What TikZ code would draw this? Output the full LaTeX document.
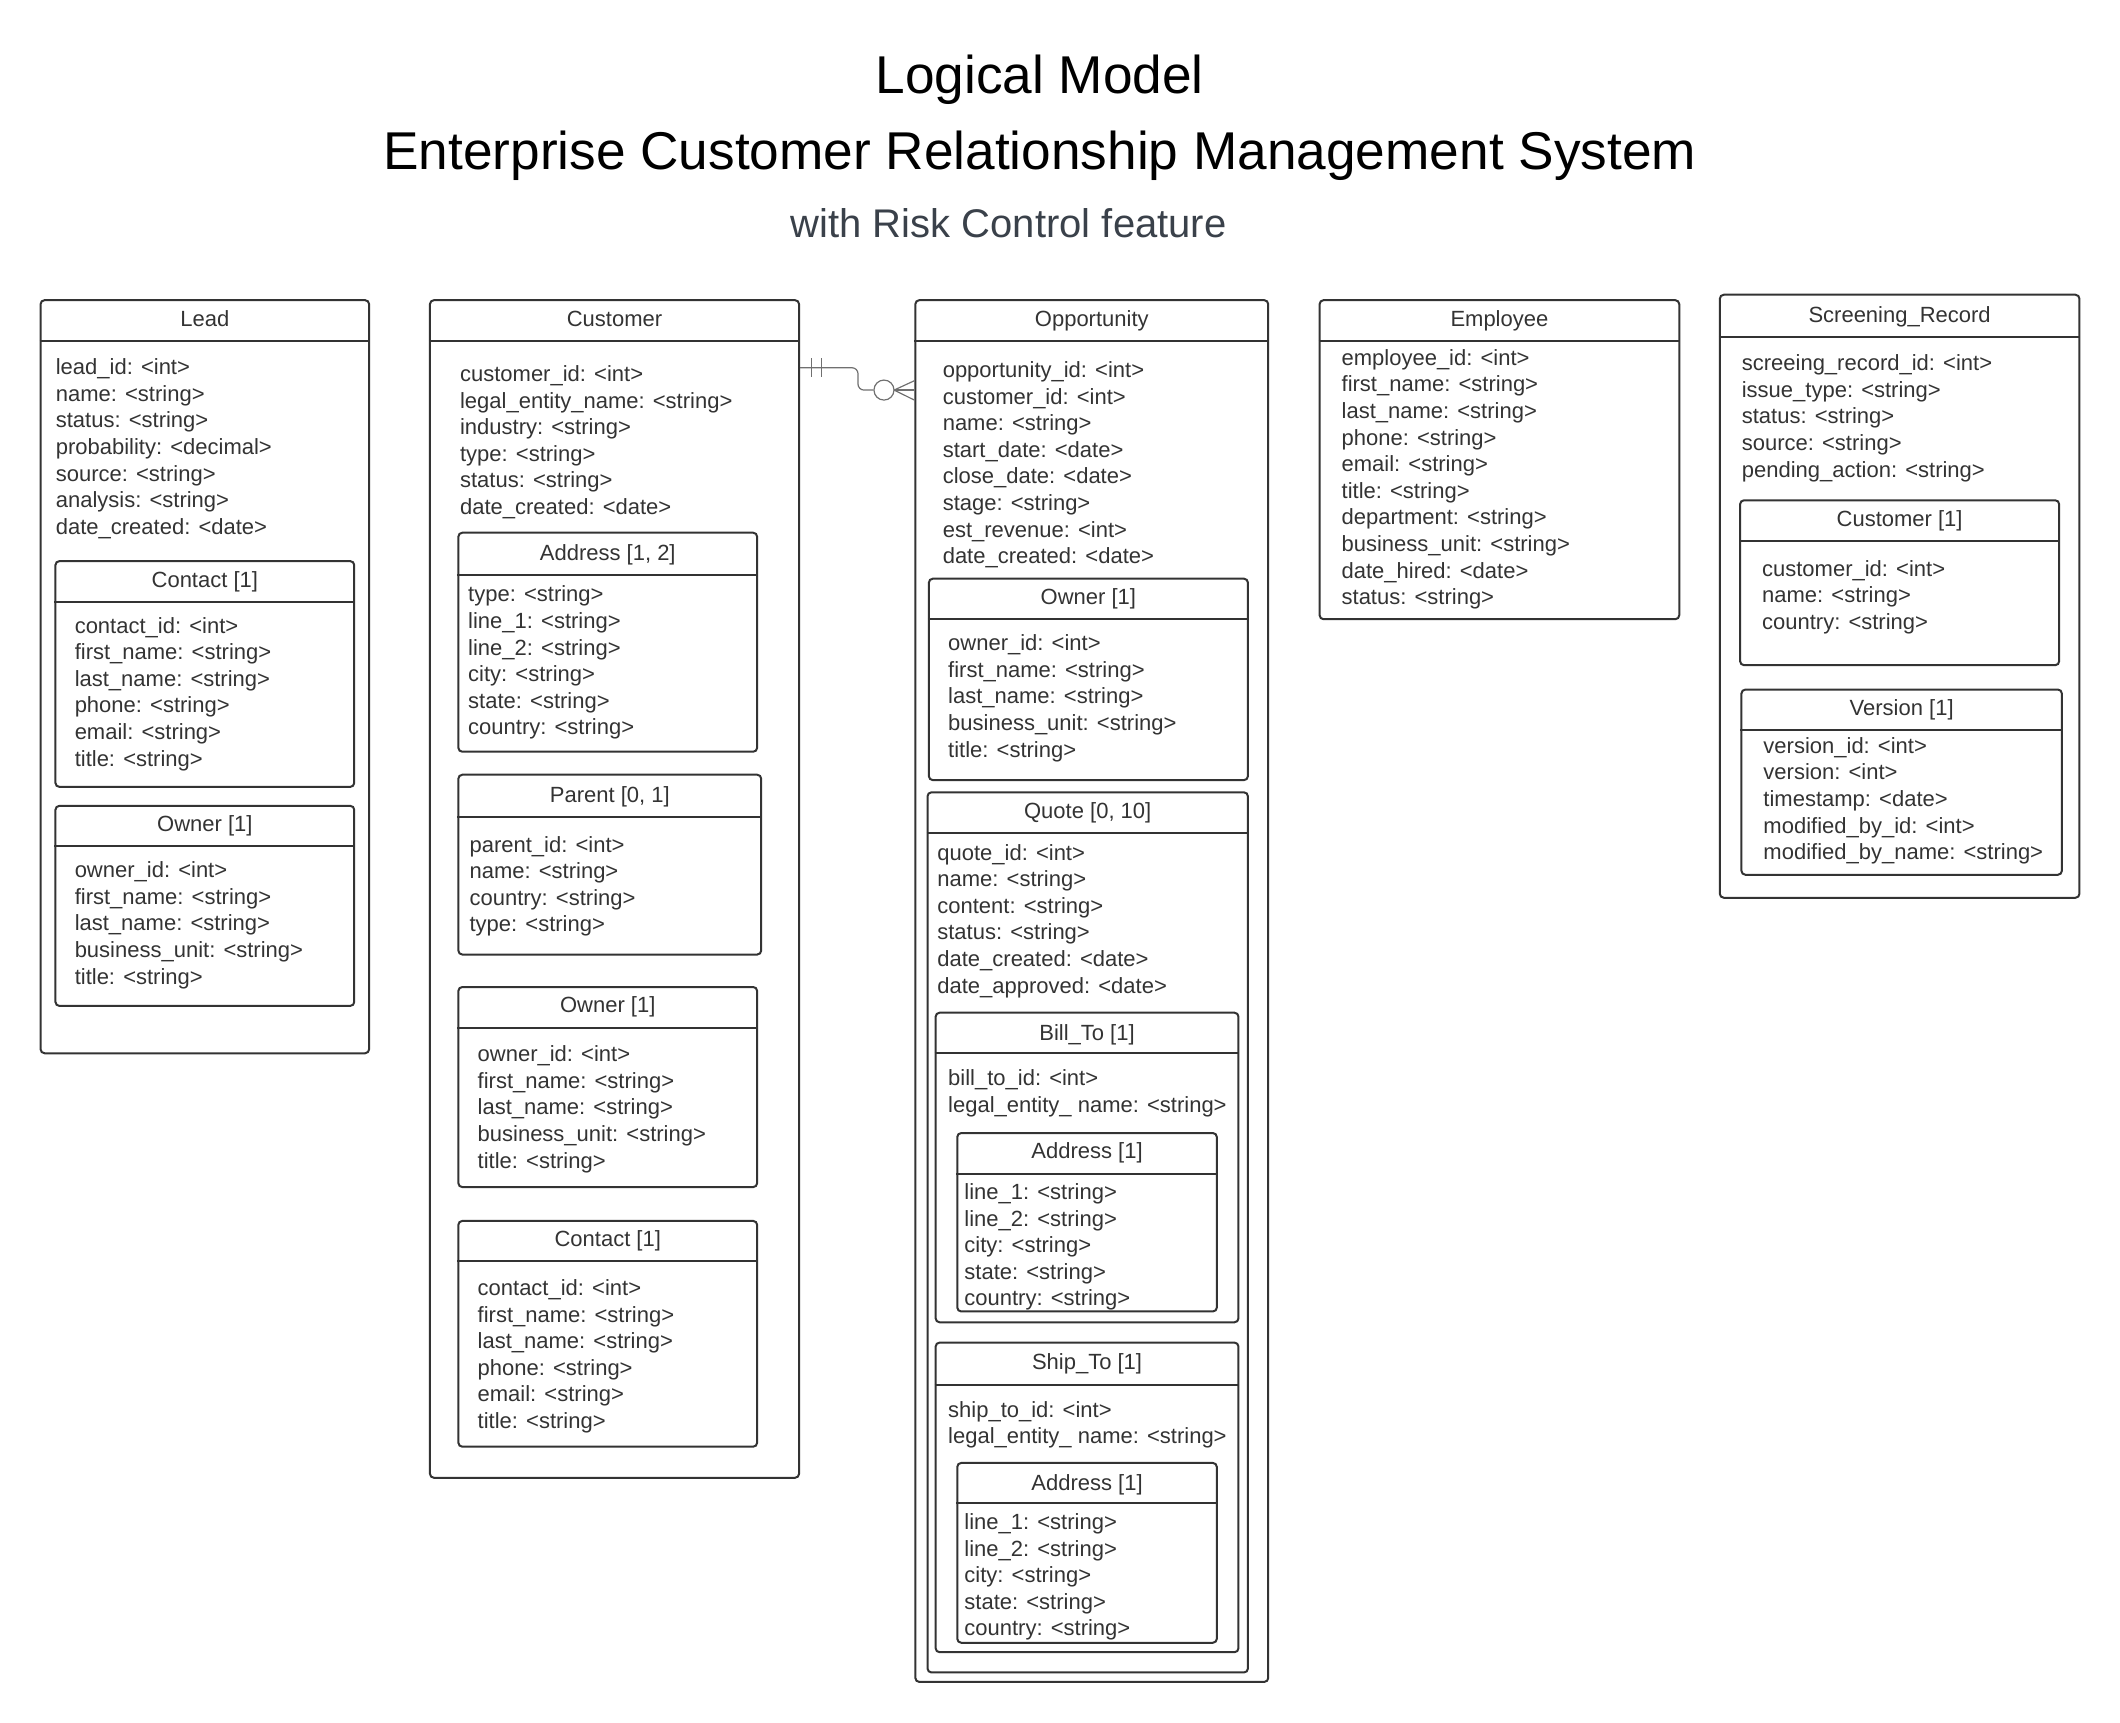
\documentclass[tikz,border=0pt]{standalone}
\usepackage{fontspec}
\setmainfont{Liberation Sans}
\usetikzlibrary{fit,calc}
\definecolor{linec}{HTML}{333333}
\definecolor{textc}{HTML}{333333}
\definecolor{subc}{HTML}{3A414A}
\definecolor{connc}{HTML}{707070}
\tikzset{
  ebox/.style={draw=linec, line width=1pt, rounded corners=2pt, inner sep=0pt},
  eline/.style={draw=linec, line width=1pt},
  etitle/.style={anchor=base, inner sep=0pt, text=textc, font=\fontsize{11}{13.3}\selectfont},
  efield/.style={anchor=base west, inner sep=0pt, text=textc, font=\fontsize{11}{13.3}\selectfont},
  conn/.style={draw=connc, line width=0.6pt},
}
\newcommand\entity[8]{%
  \node[ebox, fit={(#2,#3)(#4,#5)}] (#1) {};
  \draw[eline] (#1.west |- 0,#6) -- (#1.east |- 0,#6);
  \node[etitle] (#1-t) at ({(#2+#4)/2},{#8+6.2}) {#7};
}
\newcommand\fields[4]{%
  \node[efield] (#1) at (#2,{#3+6.2}) {\begin{tabular}[t]{@{}l@{}}#4\end{tabular}};
}
\begin{document}
\begin{tikzpicture}[x=0.676pt,y=-0.676pt]
\useasboundingbox (0,0) rectangle (1568,1274);
% titles
\node[anchor=base, inner sep=0pt, font=\fontsize{26.6}{30}\selectfont] (t1) at (769,69) {Logical Model};
\node[anchor=base, inner sep=0pt, font=\fontsize{26.6}{30}\selectfont] (t2) at (769,125) {Enterprise Customer Relationship Management System};
\node[anchor=base, inner sep=0pt, text=subc, font=\fontsize{20}{24}\selectfont] (t3) at (746,176) {with Risk Control feature};

% Lead
\entity{lead}{30}{222}{273}{779}{252}{Lead}{235}
\fields{lead-f}{41}{271}{lead\_id: <int>\\name: <string>\\status: <string>\\probability: <decimal>\\source: <string>\\analysis: <string>\\date\_created: <date>}
\entity{leadc}{41}{415}{262}{582}{445}{Contact [1]}{428}
\fields{leadc-f}{55}{462}{contact\_id: <int>\\first\_name: <string>\\last\_name: <string>\\phone: <string>\\email: <string>\\title: <string>}
\entity{leado}{41}{596}{262}{744}{626}{Owner [1]}{609}
\fields{leado-f}{55}{643}{owner\_id: <int>\\first\_name: <string>\\last\_name: <string>\\business\_unit: <string>\\title: <string>}

% Customer
\entity{cust}{318}{222}{591}{1093}{252}{Customer}{235}
\fields{cust-f}{340}{276}{customer\_id: <int>\\legal\_entity\_name: <string>\\industry: <string>\\type: <string>\\status: <string>\\date\_created: <date>}
\entity{custa}{339}{394}{560}{556}{425}{Address [1, 2]}{408}
\fields{custa-f}{346}{439}{type: <string>\\line\_1: <string>\\line\_2: <string>\\city: <string>\\state: <string>\\country: <string>}
\entity{custp}{339}{573}{563}{706}{604}{Parent [0, 1]}{587}
\fields{custp-f}{347}{624}{parent\_id: <int>\\name: <string>\\country: <string>\\type: <string>}
\entity{custo}{339}{730}{560}{878}{760}{Owner [1]}{743}
\fields{custo-f}{353}{779}{owner\_id: <int>\\first\_name: <string>\\last\_name: <string>\\business\_unit: <string>\\title: <string>}
\entity{custc}{339}{903}{560}{1070}{933}{Contact [1]}{916}
\fields{custc-f}{353}{952}{contact\_id: <int>\\first\_name: <string>\\last\_name: <string>\\phone: <string>\\email: <string>\\title: <string>}

% Opportunity
\entity{opp}{677}{222}{938}{1244}{252}{Opportunity}{235}
\fields{opp-f}{697}{273}{opportunity\_id: <int>\\customer\_id: <int>\\name: <string>\\start\_date: <date>\\close\_date: <date>\\stage: <string>\\est\_revenue: <int>\\date\_created: <date>}
\entity{oppo}{687}{428}{923}{577}{458}{Owner [1]}{441}
\fields{oppo-f}{701}{475}{owner\_id: <int>\\first\_name: <string>\\last\_name: <string>\\business\_unit: <string>\\title: <string>}
\entity{quote}{686}{586}{923}{1237}{616}{Quote [0, 10]}{599}
\fields{quote-f}{693}{630}{quote\_id: <int>\\name: <string>\\content: <string>\\status: <string>\\date\_created: <date>\\date\_approved: <date>}
\entity{bill}{692}{749}{916}{978}{779}{Bill\_To [1]}{763}
\fields{bill-f}{701}{797}{bill\_to\_id: <int>\\legal\_entity\_ name: <string>}
\entity{billa}{708}{838}{900}{970}{868}{Address [1]}{851}
\fields{billa-f}{713}{881}{line\_1: <string>\\line\_2: <string>\\city: <string>\\state: <string>\\country: <string>}
\entity{ship}{692}{993}{916}{1222}{1024}{Ship\_To [1]}{1007}
\fields{ship-f}{701}{1042}{ship\_to\_id: <int>\\legal\_entity\_ name: <string>}
\entity{shipa}{708}{1082}{900}{1215}{1112}{Address [1]}{1096}
\fields{shipa-f}{713}{1125}{line\_1: <string>\\line\_2: <string>\\city: <string>\\state: <string>\\country: <string>}

% Employee
\entity{emp}{976}{222}{1242}{458}{252}{Employee}{235}
\fields{emp-f}{992}{264}{employee\_id: <int>\\first\_name: <string>\\last\_name: <string>\\phone: <string>\\email: <string>\\title: <string>\\department: <string>\\business\_unit: <string>\\date\_hired: <date>\\status: <string>}

% Screening_Record
\entity{scr}{1272}{218}{1538}{664}{249}{Screening\_Record}{232}
\fields{scr-f}{1288}{268}{screeing\_record\_id: <int>\\issue\_type: <string>\\status: <string>\\source: <string>\\pending\_action: <string>}
\entity{scrc}{1287}{370}{1523}{492}{400}{Customer [1]}{383}
\fields{scrc-f}{1303}{420}{customer\_id: <int>\\name: <string>\\country: <string>}
\entity{scrv}{1288}{510}{1525}{647}{540}{Version [1]}{523}
\fields{scrv-f}{1304}{551}{version\_id: <int>\\version: <int>\\timestamp: <date>\\modified\_by\_id: <int>\\modified\_by\_name: <string>}

% relationship Customer ||--o< Opportunity
\node[draw=connc, line width=0.6pt, circle, minimum size=14.8*0.676pt, inner sep=0pt] (zero) at (653.8,288.5) {};
\coordinate (bend) at (634.6,280);
\coordinate (foot) at (661.3,288.5);
\draw[conn, rounded corners=3pt] (cust.east |- 0,272) -- (bend |- 0,272) -- (bend |- 0,288.5) -- (zero.west);
\draw[conn] (600.4,264.8) -- (600.4,278.8);
\draw[conn] (607.8,264.8) -- (607.8,278.8);
\draw[conn] (zero.east) -- (opp.west |- zero);
\draw[conn] (foot) -- (opp.west |- 0,281.6);
\draw[conn] (foot) -- (opp.west |- 0,295.9);
\end{tikzpicture}
\end{document}
